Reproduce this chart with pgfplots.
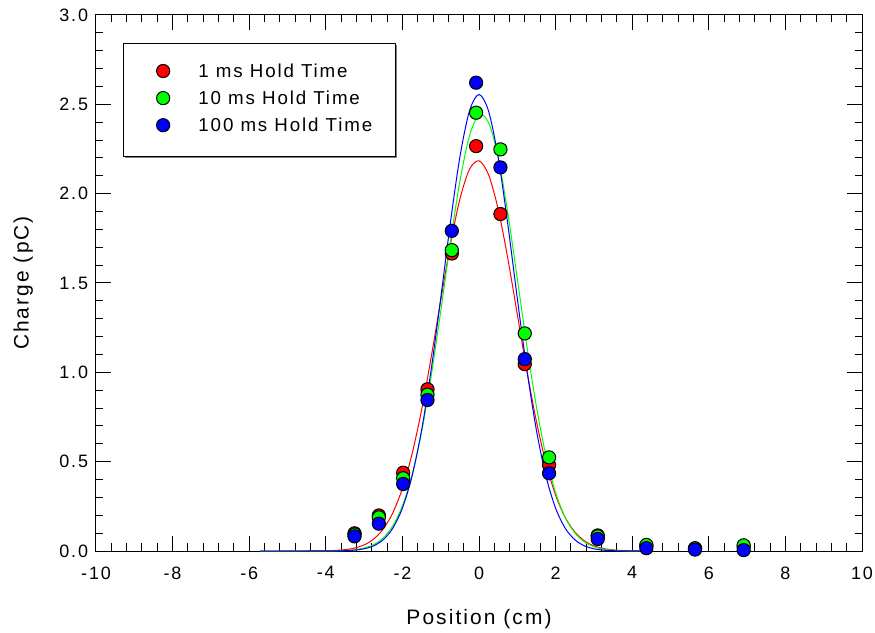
\documentclass[border=0pt]{standalone}
\usepackage{fontspec}
\setmainfont{Liberation Sans}[LetterSpace=10]
\usepackage{pgfplots}
\pgfplotsset{compat=1.18}
\usetikzlibrary{shadows}
\begin{document}
\begin{tikzpicture}
\begin{axis}[
  scale only axis, width=766bp, height=536bp,
  xmin=-10, xmax=10, ymin=0, ymax=3,
  xtick={-10,-8,...,10}, ytick={0,0.5,...,3},
  minor tick num=4,
  tick align=inside,
  major tick length=15bp, minor tick length=7.5bp,
  tick style={black, line width=1bp},
  axis line style={line width=1bp},
  clip=false,
  /pgf/number format/assume math mode=true,
  ticklabel style={font=\fontsize{18}{18}\selectfont},
  yticklabel style={/pgf/number format/fixed, /pgf/number format/fixed zerofill, /pgf/number format/precision=1, xshift=-4.5bp},
  xticklabel style={yshift=-12bp},
  xlabel={Position (cm)}, ylabel={Charge (pC)},
  label style={font=\fontsize{21}{21}\selectfont},
  xlabel style={at={(axis description cs:0.5,-0.138)}, anchor=base},
  ylabel style={at={(axis description cs:-0.088,0.5)}, anchor=base},
  legend cell align=left,
  legend image code/.code={%
    \pgfpathmoveto{\pgfpoint{-16.7bp}{-9.2bp}}\pgfpathlineto{\pgfpoint{7bp}{8.3bp}}\pgfusepath{discard}%
    \draw[#1] plot coordinates {(0bp,1.55bp)};},
  legend style={at={(axis description cs:0.0352,0.9483)}, anchor=north west, draw=black, line width=1bp, fill=white,
    inner xsep=23bp, inner ysep=20.6bp, row sep=9.15bp, column sep=28.3bp,
    font=\fontsize{18.8}{18.8}\selectfont,
    drop shadow={shadow xshift=1.5bp, shadow yshift=-1.5bp, fill=gray, opacity=1},
    nodes={text height=13.5bp, text depth=4bp, inner sep=0pt}},
]
% fitted curves
\addplot[red, line width=1bp, smooth, forget plot] coordinates {
(-5.72,0) (-5.0,0.00002) (-4.5,0.00018) (-4.0,0.0013) (-3.75,0.0032) (-3.5,0.0075) (-3.25,0.0164)
(-3.0,0.0341) (-2.75,0.0666) (-2.5,0.1229) (-2.25,0.2137) (-2.0,0.3502) (-1.75,0.5413) (-1.5,0.7884)
(-1.25,1.0828) (-1.0,1.4018) (-0.75,1.7110) (-0.5,1.9688) (-0.25,2.1357) (0,2.1841) (0.25,2.1057)
(0.5,1.9138) (0.75,1.6399) (1.0,1.3247) (1.25,1.0089) (1.5,0.7243) (1.75,0.4902) (2.0,0.3128)
(2.25,0.1882) (2.5,0.1067) (2.75,0.0571) (3.0,0.0288) (3.25,0.0137) (3.5,0.0061) (3.75,0.0026)
(4.0,0.0010) (4.25,0.0004)};
\addplot[green, line width=1bp, smooth, forget plot] coordinates {
(-5.72,0) (-5.0,0) (-4.5,0.00004) (-4.0,0.00036) (-3.75,0.0010) (-3.5,0.0028) (-3.25,0.0070)
(-3.0,0.0164) (-2.75,0.0358) (-2.5,0.0735) (-2.25,0.1409) (-2.0,0.2528) (-1.75,0.4241) (-1.5,0.6654)
(-1.25,0.9766) (-1.0,1.3407) (-0.75,1.7214) (-0.5,2.0675) (-0.25,2.3225) (0,2.4403) (0.25,2.3983)
(0.5,2.2045) (0.75,1.8954) (1.0,1.5243) (1.25,1.1465) (1.5,0.8067) (1.75,0.5309) (2.0,0.3267)
(2.25,0.1881) (2.5,0.1013) (2.75,0.0510) (3.0,0.0240) (3.25,0.0106) (3.5,0.0044) (3.75,0.0017)
(4.0,0.0006) (4.25,0.0002)};
\addplot[blue, line width=1bp, smooth, forget plot] coordinates {
(-5.72,0) (-5.0,0) (-4.5,0) (-4.0,0.0002) (-3.75,0.0006) (-3.5,0.0018) (-3.25,0.0049)
(-3.0,0.0124) (-2.75,0.0291) (-2.5,0.0633) (-2.25,0.1278) (-2.0,0.2396) (-1.75,0.4172) (-1.5,0.6748)
(-1.25,1.0136) (-1.0,1.4140) (-0.75,1.8320) (-0.5,2.2040) (-0.25,2.4620) (0,2.5550) (0.25,2.4620)
(0.5,2.2040) (0.75,1.8320) (1.0,1.4140) (1.25,1.0136) (1.5,0.6748) (1.75,0.4172) (2.0,0.2396)
(2.25,0.1278) (2.5,0.0633) (2.75,0.0291) (3.0,0.0124) (3.25,0.0049) (3.5,0.0018) (3.75,0.0006)
(4.0,0.0002) (4.25,0.00005)};
% measured data
\addplot[only marks, mark=*, mark size=6.6bp, mark options={fill=red, draw=black, line width=1bp}] coordinates {
(-3.25,0.099) (-2.615,0.199) (-1.98,0.438) (-1.345,0.905) (-0.71,1.665) (-0.075,2.266) (0.56,1.886)
(1.195,1.046) (1.83,0.481) (3.10,0.087) (4.37,0.030) (5.64,0.015) (6.91,0.025)};
\addlegendentry{1 ms Hold Time}
\addplot[only marks, mark=*, mark size=6.6bp, mark options={fill=green, draw=black, line width=1bp}] coordinates {
(-3.25,0.092) (-2.615,0.188) (-1.98,0.407) (-1.345,0.875) (-0.71,1.684) (-0.075,2.453) (0.56,2.248)
(1.195,1.218) (1.83,0.524) (3.10,0.082) (4.37,0.034) (5.64,0.015) (6.91,0.032)};
\addlegendentry{10 ms Hold Time}
\addplot[only marks, mark=*, mark size=6.6bp, mark options={fill=blue, draw=black, line width=1bp}] coordinates {
(-3.25,0.082) (-2.615,0.153) (-1.98,0.375) (-1.345,0.845) (-0.71,1.792) (-0.075,2.621) (0.56,2.147)
(1.195,1.074) (1.83,0.435) (3.10,0.067) (4.37,0.016) (5.64,0.008) (6.91,0.005)};
\addlegendentry{100 ms Hold Time}
\end{axis}
\pgfresetboundingbox
\path ([shift={(-96bp,-82bp)}]current axis.south west) rectangle ([shift={(13bp,15bp)}]current axis.north east);
\end{tikzpicture}
\end{document}
